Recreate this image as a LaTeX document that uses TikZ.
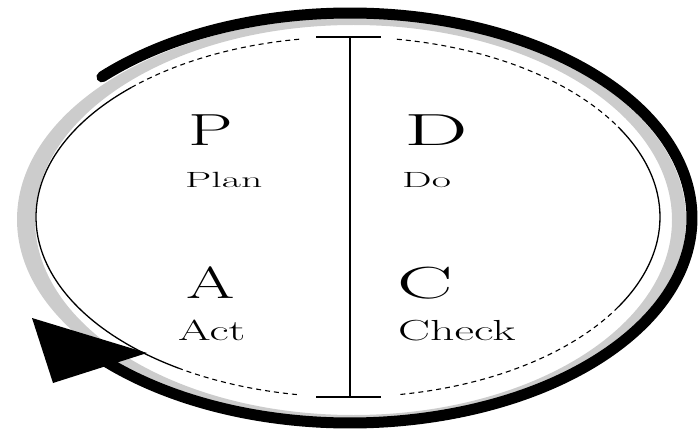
\documentclass[tikz,border=0pt]{standalone}
\usepackage{graphicx}
\begin{document}
\begin{tikzpicture}[x=1pt,y=1pt,
  thinell/.style={line width=1.3pt,black},
  thindash/.style={line width=1.1pt,black,dash pattern=on 5pt off 4pt},
  biglet/.style={anchor=base west,inner sep=0pt,font=\fontsize{45}{45}\selectfont},
  midlab/.style={anchor=base west,inner sep=0pt,font=\fontsize{22}{22}\selectfont},
  lowlab/.style={anchor=base west,inner sep=0pt,font=\fontsize{29}{29}\selectfont}]
\useasboundingbox (0,0) rectangle (699,432);
% gray shadow band
\fill[gray!40,even odd rule] (351.5,212.5) ellipse[x radius=334.5,y radius=201.5]
  (353.5,212) ellipse[x radius=318.5,y radius=195];
% thin ellipse
\def\ecx{348}\def\ecy{215}\def\erx{312}\def\ery{180}
\draw[thinell] ({\ecx+\erx*cos(134)},{\ecy+\ery*sin(134)}) arc[start angle=134,end angle=237,x radius=\erx,y radius=\ery];
\draw[thindash] ({\ecx+\erx*cos(99)},{\ecy+\ery*sin(99)}) arc[start angle=99,end angle=134,x radius=\erx,y radius=\ery];
\draw[thindash] ({\ecx+\erx*cos(237)},{\ecy+\ery*sin(237)}) arc[start angle=237,end angle=261,x radius=\erx,y radius=\ery];
\draw[thindash] ({\ecx+\erx*cos(81)},{\ecy+\ery*sin(81)}) arc[start angle=81,end angle=30,x radius=\erx,y radius=\ery];
\draw[thinell] ({\ecx+\erx*cos(30)},{\ecy+\ery*sin(30)}) arc[start angle=30,end angle=-30,x radius=\erx,y radius=\ery];
\draw[thindash] ({\ecx+\erx*cos(-30)},{\ecy+\ery*sin(-30)}) arc[start angle=-30,end angle=-81,x radius=\erx,y radius=\ery];
% black arrow body
\coordinate (start) at ({350+342*cos(136.5)},{214+205*sin(136.5)});
\draw[black,line width=11pt,line cap=round] (start)
  arc[start angle=136.5,end angle=-140,x radius=342,y radius=205];
% arrow head
\coordinate (tip) at (32,114);
\coordinate (hr) at (147,79);
\coordinate (hl) at (53,49);
\fill[black] (tip) -- (hr) -- (hl) -- cycle;
% vertical divider with ticks
\coordinate (top) at (350,395);
\coordinate (bot) at (350,35);
\coordinate (tl) at (316,395);
\coordinate (tr) at (381,395);
\coordinate (bl) at (316,35);
\coordinate (br) at (381,35);
\draw[line width=1.8pt] (top) -- (bot);
\draw[line width=2.5pt] (tl) -- (tr);
\draw[line width=2.5pt] (bl) -- (br);
% letters
\node[biglet] (P) at (188,287) {\scalebox{1.58}[1]{P}};
\node[midlab] (plan) at (185,245) {\scalebox{1.9}[1]{Plan}};
\node[biglet] (D) at (404,287) {\scalebox{2.0}[1]{D}};
\node[midlab] (do) at (402,245) {\scalebox{1.9}[1]{Do}};
\node[biglet] (A) at (186,134) {\scalebox{1.55}[1]{A}};
\node[lowlab] (act) at (178,92) {\scalebox{1.62}[1]{Act}};
\node[biglet] (C) at (397,134) {\scalebox{1.85}[1]{C}};
\node[lowlab] (check) at (398,92) {\scalebox{1.65}[1]{Check}};
\end{tikzpicture}
\end{document}
